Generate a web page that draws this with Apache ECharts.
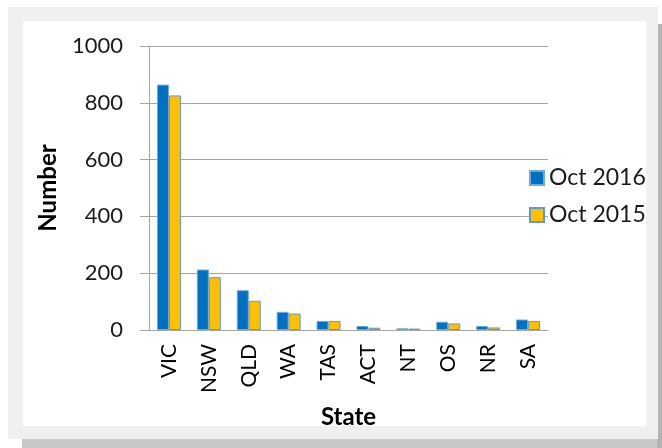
<!DOCTYPE html>
<html>
<head>
<meta charset="utf-8">
<script src="https://cdn.jsdelivr.net/npm/echarts@6/dist/echarts.min.js"></script>
<style>
  html, body { margin: 0; padding: 0; background: #fff; }
  #main { width: 662px; height: 448px; }
</style>
</head>
<body>
<div id="main"></div>
<script>
// states along the x axis
var states = ['VIC', 'NSW', 'QLD', 'WA', 'TAS', 'ACT', 'NT', 'OS', 'NR', 'SA'];
// numbers
var oct2016 = [864, 213, 140, 64, 32, 14, 6, 29, 14, 37];
var oct2015 = [826, 186, 103, 58, 32, 8, 5, 23, 9, 32];
var yTicks = [0, 200, 400, 600, 800, 1000];

var font = 'Lato, "Open Sans", sans-serif';
var chart = echarts.init(document.getElementById('main'));

var option = {
    animation: false,
    textStyle: { fontFamily: font },
    graphic: [
        // grey frame round the chart, with a bit of shadow
        { type: 'rect', z: -10, silent: true, shape: { x: 22, y: 439, width: 640, height: 9 }, style: { fill: '#c8c8c8' } },
        { type: 'rect', z: -10, silent: true, shape: { x: 657, y: 24, width: 5, height: 424 }, style: { fill: '#b4b4b4' } },
        { type: 'rect', z: -9, silent: true, shape: { x: 8, y: 7, width: 650, height: 432 }, style: { fill: '#f0f0f0' } },
        { type: 'rect', z: -8, silent: true, shape: { x: 23, y: 21, width: 623, height: 405 }, style: { fill: '#ffffff' } }
    ],
    grid: {
        left: 149,
        right: 114,
        top: 46,
        bottom: 118
    },
    legend: {
        orient: 'vertical',
        left: 529,
        top: 166,
        padding: 0,
        itemWidth: 14,
        itemHeight: 14,
        itemGap: 13,
        icon: 'rect',
        textStyle: { fontSize: 23, color: '#1a1a1a', fontFamily: font, lineHeight: 24 },
        data: ['Oct 2016', 'Oct 2015']
    },
    xAxis: {
        type: 'category',
        data: states,
        name: 'State',
        nameLocation: 'middle',
        nameGap: 75,
        nameTextStyle: { fontSize: 24, fontWeight: 'bold', color: '#000', fontFamily: font },
        axisLine: { lineStyle: { color: '#a6a6a6', width: 1 } },
        axisTick: { show: false },
        axisLabel: { rotate: 90, fontSize: 21, color: '#000', margin: 14, fontFamily: font }
    },
    yAxis: {
        type: 'value',
        min: yTicks[0],
        max: yTicks[yTicks.length - 1],
        interval: 200,
        name: 'Number',
        nameLocation: 'middle',
        nameGap: 89,
        nameRotate: 90,
        nameTextStyle: { fontSize: 24, fontWeight: 'bold', color: '#000', fontFamily: font },
        axisLine: { show: true, lineStyle: { color: '#a6a6a6', width: 1 } },
        axisTick: { show: true, length: 9, lineStyle: { color: '#a6a6a6' } },
        axisLabel: {
            fontSize: 22, color: '#1a1a1a', margin: 26, fontFamily: font,
            formatter: function (v) { return String(v); }
        },
        splitLine: { lineStyle: { color: '#a6a6a6', width: 1 } }
    },
    series: [{
        name: 'Oct 2016',
        type: 'bar',
        data: oct2016,
        barWidth: 12,
        barGap: '0%',
        itemStyle: { color: '#0070c0', borderColor: '#6fa8dc', borderWidth: 1 }
    }, {
        name: 'Oct 2015',
        type: 'bar',
        data: oct2015,
        barWidth: 12,
        itemStyle: { color: '#ffc000', borderColor: '#5b9bd5', borderWidth: 1 }
    }]
};

chart.setOption(option);
</script>
</body>
</html>
